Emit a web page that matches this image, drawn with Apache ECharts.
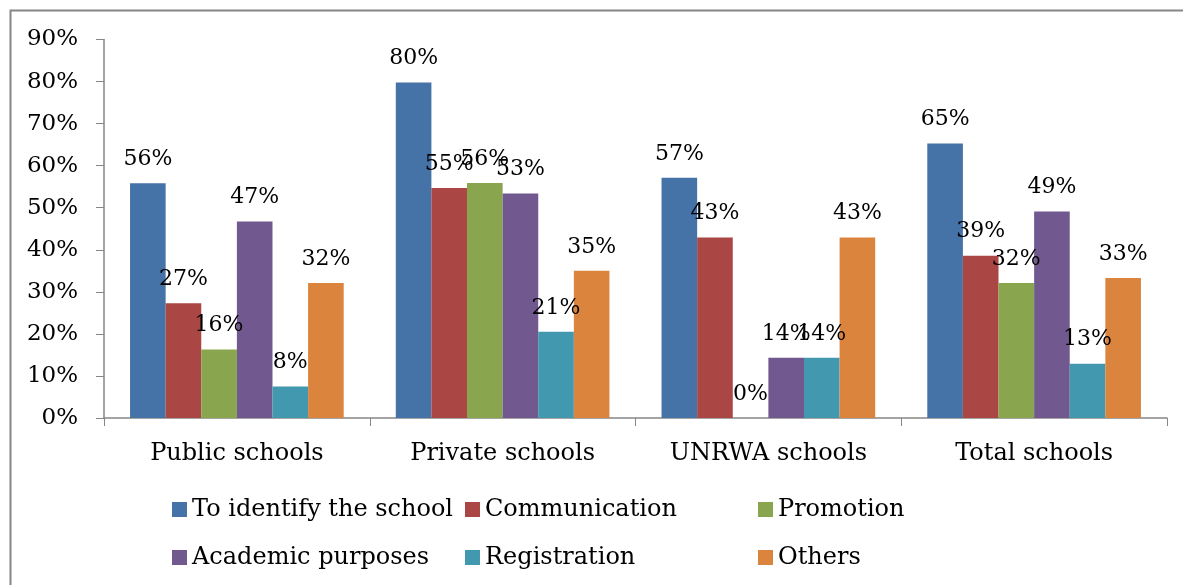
<!DOCTYPE html>
<html>
<head>
<meta charset="utf-8">
<title>School websites purposes</title>
<script src="https://cdn.jsdelivr.net/npm/echarts@6/dist/echarts.min.js"></script>
<style>
  html, body { margin: 0; padding: 0; background: #fff; }
  #chart { width: 1183px; height: 585px; }
</style>
</head>
<body>
<div id="chart"></div>
<script>
// categories on the x axis
const schools = ['Public schools', 'Private schools', 'UNRWA schools', 'Total schools']

// one array per purpose (percent)
const identifySchool = [55.8, 79.8, 57.1, 65.3]
const communication = [27.3, 54.7, 42.9, 38.6]
const promotion = [16.3, 55.9, 0, 32.1]
const academicPurposes = [46.7, 53.4, 14.3, 49.1]
const registration = [7.5, 20.5, 14.3, 12.9]
const others = [32.1, 35.0, 42.9, 33.3]

const yTicks = [0, 10, 20, 30, 40, 50, 60, 70, 80, 90]

const seriesNames = ['To identify the school', 'Communication', 'Promotion', 'Academic purposes', 'Registration', 'Others']
const seriesData = [identifySchool, communication, promotion, academicPurposes, registration, others]
const colors = ['#4572A7', '#AA4643', '#89A54E', '#71588F', '#4198AF', '#DB843D']

const font = 'DejaVu Serif'

const chart = echarts.init(document.getElementById('chart'))

const option = {
  animation: false,
  color: colors,
  textStyle: { fontFamily: font, color: '#000' },
  graphic: [
    { // outer frame of the chart area
      type: 'rect',
      left: 8, top: 8,
      shape: { width: 1200, height: 600 },
      style: { fill: 'none', stroke: '#868686', lineWidth: 2 },
      silent: true
    }
  ],
  grid: {
    left: 104,
    right: 16,
    top: 39.5,
    bottom: 167
  },
  legend: {
    data: seriesNames,
    left: 172,
    top: 485.5,
    padding: 0,
    width: 900,
    itemWidth: 15,
    itemHeight: 15,
    itemGap: 0,
    icon: 'rect',
    textStyle: {
      fontFamily: font,
      fontSize: 24,
      color: '#000',
      width: 273,
      lineHeight: 48
    }
  },
  xAxis: {
    type: 'category',
    data: schools,
    axisLine: { lineStyle: { color: '#868686', width: 1.5 } },
    axisTick: { show: true, length: 8, lineStyle: { color: '#868686' } },
    axisLabel: { fontFamily: font, fontSize: 24, color: '#000', margin: 24 }
  },
  yAxis: {
    type: 'value',
    min: yTicks[0],
    max: yTicks[yTicks.length - 1],
    interval: 10,
    splitLine: { show: false },
    axisLine: { show: true, lineStyle: { color: '#868686', width: 1.5 } },
    axisTick: { show: true, length: 8, lineStyle: { color: '#868686' } },
    axisLabel: {
      fontFamily: font,
      fontSize: 23,
      color: '#000',
      margin: 26,
      formatter: v => v + '%'
    }
  },
  series: seriesData.map((d, i) => ({
    name: seriesNames[i],
    type: 'bar',
    data: d,
    barGap: 0,
    barCategoryGap: '19.6%',
    label: {
      show: true,
      position: 'top',
      distance: 13,
      fontFamily: font,
      fontSize: 22,
      color: '#000',
      formatter: p => Math.round(p.value) + '%'
    }
  }))
}

chart.setOption(option)
</script>
</body>
</html>
